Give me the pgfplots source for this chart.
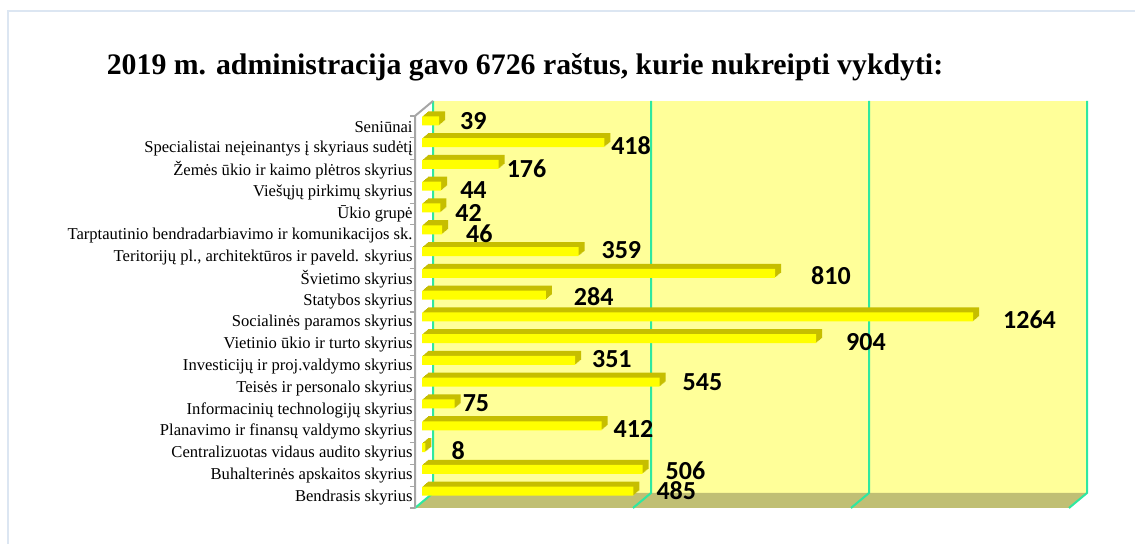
\documentclass[border=0pt]{standalone}
\usepackage{fontspec}
\setmainfont{Liberation Serif}
\newfontfamily\calibri{Carlito}
\usepackage{pgfplots}
\usepackage{pgfplotstable}
\pgfplotsset{compat=1.18}

\definecolor{wall}{HTML}{FFFF99}
\definecolor{floorc}{HTML}{C0BF74}
\definecolor{barfront}{HTML}{FFFF00}
\definecolor{bartop}{HTML}{C6BE00}
\definecolor{gridgreen}{HTML}{2EE8A0}
\definecolor{framec}{HTML}{DCE6F2}
\definecolor{axisgray}{HTML}{A6A6A6}

% index 0 = bottom bar; dx, dy nudge the value labels as in the original
\pgfplotstableread{
idx value dx dy
0 485 0 0
1 506 0 -0.5
2 8 1.5 -1.5
3 412 -5.5 -1.5
4 75 -7.5 0.5
5 545 0 0
6 351 -3 0.5
7 904 3.5 -1.5
8 1264 3.5 -1.5
9 284 2.5 -1
10 810 6.5 -1
11 359 0 0.5
12 46 0.5 -2
13 42 -4 -2.5
14 44 -2 -2
15 176 -7.5 -2
16 418 -8 -1.5
17 39 -1 0
}\counts

\begin{document}
\begin{tikzpicture}[x=1pt,y=1pt]
\path[use as bounding box] (0,0) rectangle (567.5,272);
\draw[framec, line width=0.8pt] (4,-10) -- (4,266.5) -- (580,266.5);
\node[anchor=base, font=\bfseries\fontsize{14.9}{17}\selectfont] at (262.5,234.5)
  {2019 m. administracija gavo 6726 raštus, kurie nukreipti vykdyti:};

\begin{axis}[
  at={(207.5pt,18pt)}, anchor=south west,
  scale only axis, width=327pt, height=196pt,
  xmin=0, xmax=1500, ymin=-0.5, ymax=17.5,
  axis line style={draw=none},
  clip=false,
  xtick=\empty,
  ytick={0,...,17},
  yticklabels={Bendrasis skyrius, Buhalterinės apskaitos skyrius,
    Centralizuotas vidaus audito skyrius, Planavimo ir finansų valdymo skyrius,
    Informacinių technologijų skyrius, Teisės ir personalo skyrius,
    Investicijų ir proj.valdymo skyrius, Vietinio ūkio ir turto skyrius,
    Socialinės paramos skyrius, Statybos skyrius, Švietimo skyrius,
    {Teritorijų pl., architektūros ir paveld. skyrius},
    Tarptautinio bendradarbiavimo ir komunikacijos sk., Ūkio grupė,
    Viešųjų pirkimų skyrius, Žemės ūkio ir kaimo plėtros skyrius,
    Specialistai neįeinantys į skyriaus sudėtį, Seniūnai},
  yticklabel style={font=\fontsize{8.3}{9}\selectfont, inner sep=1pt},
  major tick length=0pt,
  minor ytick={-0.5,0.5,...,17.5},
  minor tick length=2.5pt,
  minor y tick style={draw=axisgray, line width=0.6pt},
  tick align=outside, tick pos=left,
]
% back wall and floor
\fill[wall] ([shift={(9pt,7.5pt)}]rel axis cs:0,0) rectangle ([shift={(9pt,7.5pt)}]rel axis cs:1,1);
\fill[floorc] (rel axis cs:0,0) -- (rel axis cs:1,0) -- ([shift={(9pt,7.5pt)}]rel axis cs:1,0)
  -- ([shift={(9pt,7.5pt)}]rel axis cs:0,0) -- cycle;
\pgfplotsinvokeforeach{0,500,1000,1500}{
  \draw[gridgreen, line width=1pt] (axis cs:#1,-0.5) -- ([shift={(9pt,7.5pt)}]axis cs:#1,-0.5)
    -- ([shift={(9pt,7.5pt)}]axis cs:#1,17.5);
}
\draw[axisgray, line width=1pt] (rel axis cs:0,0) -- (rel axis cs:0,1) -- ([shift={(9pt,7.5pt)}]rel axis cs:0,1);

% depth of the bars
\pgfplotsinvokeforeach{1,2,3,4,5,6}{
  \addplot[xbar, bar shift=0pt, bar width=4.5pt, fill=bartop, draw=none,
    xshift={3.5pt+#1*0.5pt}, yshift={3pt+#1*0.42pt}]
    table[x=value, y=idx] {\counts};
}
% front faces
\addplot[xbar, bar shift=0pt, bar width=4.5pt, fill=barfront, draw=none,
  xshift=3.5pt, yshift=3pt, point meta=x,
  visualization depends on={\thisrow{dx}\as\dx},
  visualization depends on={\thisrow{dy}\as\dy},
  nodes near coords={\pgfmathprintnumber[assume math mode=true, 1000 sep={}]{\pgfplotspointmeta}},
  nodes near coords align={horizontal},
  every node near coord/.append style={font=\calibri\bfseries\fontsize{13}{13}\selectfont,
    text=black, xshift={(8+\dx)*1pt}, yshift={\dy*1pt}}]
  table[x=value, y=idx] {\counts};
\end{axis}
\end{tikzpicture}
\end{document}
